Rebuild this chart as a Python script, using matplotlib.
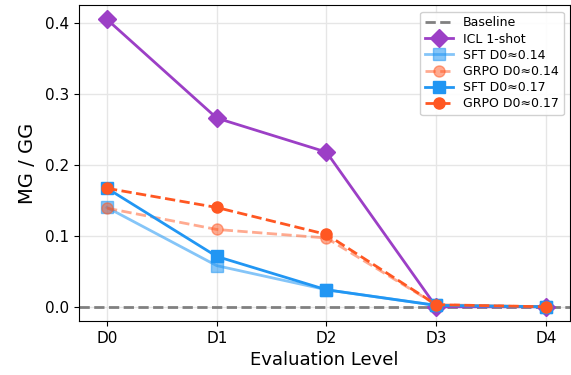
import matplotlib
matplotlib.use("Agg")
import matplotlib.pyplot as plt

levels = ["D0", "D1", "D2", "D3", "D4"]
icl = [0.405, 0.266, 0.218, 0.0, 0.0]
sft_014 = [0.140, 0.058, 0.024, 0.002, 0.0]
grpo_014 = [0.139, 0.109, 0.097, 0.003, 0.0]
sft_017 = [0.167, 0.071, 0.024, 0.002, 0.0]
grpo_017 = [0.167, 0.140, 0.102, 0.003, 0.0]

fig = plt.figure(figsize=(5.71, 3.75), dpi=100)
ax = fig.add_axes([0.1384, 0.144, 0.860, 0.842])
x = list(range(len(levels)))

ax.axhline(0, color="gray", ls="--", lw=2, label="Baseline", zorder=1)
ax.plot(x, icl, color="#9C3FC6", marker="D", ms=9, lw=2, label="ICL 1-shot")
ax.plot(x, sft_014, color="#2196F3", alpha=0.55, marker="s", ms=8, lw=2, label="SFT D0≈0.14")
ax.plot(x, grpo_014, color="#FF5722", alpha=0.5, marker="o", ms=8, lw=2, ls="--", label="GRPO D0≈0.14")
ax.plot(x, sft_017, color="#2196F3", marker="s", ms=8, lw=2, label="SFT D0≈0.17")
ax.plot(x, grpo_017, color="#FF5722", marker="o", ms=8, lw=2, ls="--", label="GRPO D0≈0.17")

ax.set_xlim(-0.255, 4.22)
ax.set_ylim(-0.02, 0.425)
ax.set_xticks(x)
ax.set_xticklabels(levels)
ax.set_yticks([0.0, 0.1, 0.2, 0.3, 0.4])
ax.tick_params(labelsize=11)
ax.set_xlabel("Evaluation Level", fontsize=13)
ax.set_ylabel("MG / GG", fontsize=14, labelpad=6)
ax.grid(True, color="#e6e6e6", lw=1)
ax.set_axisbelow(True)
ax.legend(loc="upper right", fontsize=9, framealpha=0.9, handlelength=2.2,
          labelspacing=0.25, borderaxespad=0.5, borderpad=0.4)

fig.savefig("out.png", dpi=100)
